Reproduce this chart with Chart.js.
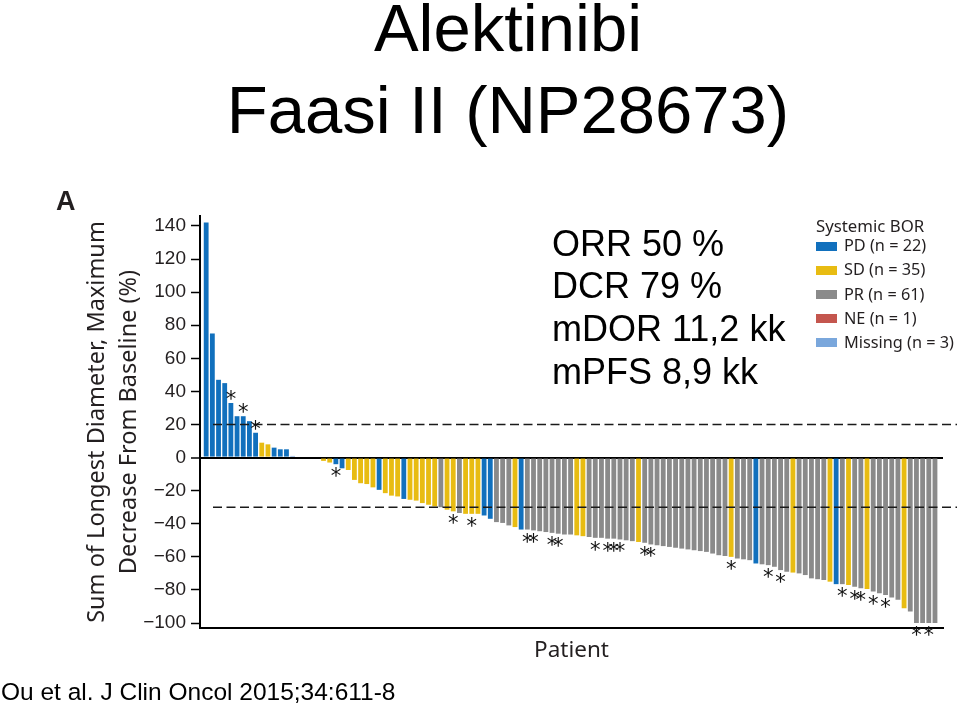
<!DOCTYPE html>
<html>
<head>
<meta charset="utf-8">
<script src="https://cdn.jsdelivr.net/npm/chart.js@4.4.1/dist/chart.umd.min.js"></script>
<style>
  html, body { margin: 0; padding: 0; background: #fff; }
  #wrap { position: relative; width: 960px; height: 708px; overflow: hidden; background: #fff; }
  #c { position: absolute; left: 0; top: 0; }
  .t { position: absolute; white-space: nowrap; line-height: 1; color: #000; }
  .arial { font-family: "Liberation Sans", Arial, Helvetica, sans-serif; }
  .noto { font-family: "Noto Sans", "Open Sans", sans-serif; color: #231f20; }
  .sw { position: absolute; width: 21px; height: 9px; }
</style>
</head>
<body>
<div id="wrap">
  <canvas id="c" width="960" height="708"></canvas>
  <div class="t arial" style="left:0;width:1016px;text-align:center;top:-5.7px;font-size:67px;">Alektinibi</div>
  <div class="t arial" style="left:0;width:1016px;text-align:center;top:76.3px;font-size:67px;">Faasi II (NP28673)</div>
  <div class="t arial" style="left:56px;top:188px;font-size:27px;font-weight:bold;color:#231f20;">A</div>
  <div class="t arial" style="left:552px;top:225.5px;font-size:36px;">ORR 50 %</div>
  <div class="t arial" style="left:552px;top:268.2px;font-size:36px;">DCR 79 %</div>
  <div class="t arial" style="left:552px;top:310.8px;font-size:36px;">mDOR 11,2 kk</div>
  <div class="t arial" style="left:552px;top:353.5px;font-size:36px;">mPFS 8,9 kk</div>
  <div class="t arial" style="left:1px;top:680.3px;font-size:24.5px;">Ou et al. J Clin Oncol 2015;34:611-8</div>
  <div id="legend"></div>
</div>
<script>
// ---- data ----
const changeValues = [
  142, 75, 47, 45, 33, 25, 25, 22, 15, 9,
  8, 6, 5, 5, 1, 0, 0, 0, 0, -2,
  -3, -4, -6.5, -7.5, -13.5, -15.5, -16, -18, -19.5, -21.5,
  -23, -23.5, -25, -25.5, -26, -27.5, -28.5, -29.5, -30, -31.5,
  -32.5, -33.5, -34, -34, -34, -35, -37, -39, -39.5, -41,
  -42, -43.5, -43.5, -44, -44.5, -45, -45.5, -46, -46.5, -46.5,
  -47, -47.5, -48, -48.5, -48.5, -49, -49, -49.5, -50, -50.5,
  -51, -51.5, -52.5, -53, -53.5, -54, -54.5, -55, -55.5, -56,
  -56.5, -57, -58, -59, -59.5, -60, -61, -61.5, -62, -64,
  -64.5, -65, -66, -68, -69, -69.5, -70, -71, -73, -73.5,
  -74, -75, -76.5, -76.5, -77, -78, -79, -79.5, -81, -82,
  -83, -84.5, -86, -91, -93, -100, -100, -100, -100
];
const responseCodes = [
  'PD','PD','PD','PD','PD','PD','PD','PD','PD','SD',
  'SD','PD','PD','PD','Missing','SD','SD','SD','NE','SD',
  'SD','PD','PD','SD','SD','SD','SD','SD','PD','SD',
  'SD','SD','PD','SD','SD','SD','SD','SD','PR','SD',
  'SD','PR','SD','SD','SD','PD','PD','PR','PR','PR',
  'SD','PD','PR','PR','PR','PR','PR','PR','PR','PR',
  'SD','SD','PR','PR','PR','PR','PR','PR','PR','PR',
  'SD','PR','PR','PR','PR','PR','PR','PR','PR','PR',
  'PR','PR','PR','PR','PR','SD','PR','PR','PR','PD',
  'PR','PR','PR','PR','PR','SD','PR','PR','PR','PR',
  'PR','SD','PD','PR','SD','PR','PR','SD','PR','PR',
  'PR','PR','PR','SD','PR','PR','PR','PR','PR'
];
const asteriskBars = [5, 7, 9, 22, 41, 44, 53, 54, 57, 58, 64, 66, 67, 68, 72, 73, 86, 92, 94, 104, 106, 107, 109, 111, 116, 118];
const responseLabels = ['PD', 'SD', 'PR', 'NE', 'Missing'];
const responseCounts = [22, 35, 61, 1, 3];
const responseColors = ['#1170bd', '#e8bc12', '#8a8a8a', '#c4564e', '#7aa7dc'];
const legendTitle = 'Systemic BOR';
const thresholdLines = [20, -30];
const yAxisTitle = ['Sum of Longest Diameter, Maximum', 'Decrease From Baseline (%)'];
const xAxisTitle = 'Patient';

// ---- legend (HTML) ----
(function buildLegend() {
  const lg = document.getElementById('legend');
  const title = document.createElement('div');
  title.className = 't noto';
  title.style.cssText = 'left:816px;top:217.5px;font-size:16.8px;';
  title.textContent = legendTitle;
  lg.appendChild(title);
  responseLabels.forEach((lab, i) => {
    const cy = 246 + i * 24.1;
    const sw = document.createElement('div');
    sw.className = 'sw';
    sw.style.left = '816px';
    sw.style.top = (cy - 4.5) + 'px';
    sw.style.background = responseColors[i];
    lg.appendChild(sw);
    const tx = document.createElement('div');
    tx.className = 't noto';
    tx.style.cssText = 'left:844px;font-size:16.3px;top:' + (cy - 8.7) + 'px;';
    tx.textContent = lab + ' (n = ' + responseCounts[i] + ')';
    lg.appendChild(tx);
  });
})();

// ---- reference lines and asterisks ----
const annotPlugin = {
  id: 'annot',
  afterDatasetsDraw(chart) {
    const { ctx, chartArea, scales } = chart;
    const y = scales.y;
    ctx.save();
    ctx.strokeStyle = '#1a1a1a';
    ctx.lineWidth = 1.6;
    ctx.setLineDash([9, 4.5]);
    thresholdLines.forEach(v => {
      const py = y.getPixelForValue(v);
      ctx.beginPath();
      ctx.moveTo(chartArea.left + 13, py);
      ctx.lineTo(chartArea.right + 14, py);
      ctx.stroke();
    });
    ctx.setLineDash([]);
    const meta = chart.getDatasetMeta(0);
    ctx.fillStyle = '#111';
    ctx.font = '21px "DejaVu Sans"';
    ctx.textAlign = 'center';
    ctx.textBaseline = 'alphabetic';
    const m = ctx.measureText('*');
    const mid = (m.actualBoundingBoxAscent - m.actualBoundingBoxDescent) / 2;
    asteriskBars.forEach(k => {
      const el = meta.data[k - 1];
      if (!el) return;
      const v = changeValues[k - 1];
      const cy = v >= 0 ? el.y - 8 : el.y + 8;
      ctx.fillText('*', el.x, cy + mid);
    });
    ctx.restore();
  }
};

new Chart(document.getElementById('c').getContext('2d'), {
  type: 'bar',
  data: {
    datasets: [{
      data: changeValues.map((v, i) => ({ x: i + 1, y: v })),
      backgroundColor: responseCodes.map(c => responseColors[responseLabels.indexOf(c)]),
      borderWidth: 0,
      barPercentage: 0.78,
      categoryPercentage: 1
    }]
  },
  options: {
    responsive: false,
    animation: false,
    devicePixelRatio: 1,
    layout: { padding: { left: 0, right: 17, top: 216, bottom: 0 } },
    plugins: { legend: { display: false }, tooltip: { enabled: false } },
    scales: {
      x: {
        type: 'linear',
        min: 0,
        max: 120.3,
        offset: false,
        ticks: { display: false, includeBounds: false },
        grid: { display: false },
        border: { display: true, color: '#000', width: 2 },
        title: {
          display: true, text: xAxisTitle, color: '#231f20',
          font: { family: 'Noto Sans', size: 22.5 },
          padding: { top: 0, bottom: 44 }
        },
        afterFit: s => { s.height = 80; }
      },
      y: {
        min: -103,
        max: 146,
        ticks: {
          stepSize: 20, includeBounds: false, padding: 5, color: '#231f20',
          font: { family: 'Liberation Sans', size: 19 },
          callback: v => (v < 0 ? '\u2212' + Math.abs(v) : String(v))
        },
        grid: {
          drawOnChartArea: true, drawTicks: true, tickLength: 9,
          color: c => (c.tick && c.tick.value === 0 ? '#000' : 'rgba(0,0,0,0)'),
          lineWidth: c => (c.tick && c.tick.value === 0 ? 2 : 1),
          tickColor: '#000', tickWidth: 1.5
        },
        border: { display: true, color: '#000', width: 2 },
        title: {
          display: true, text: yAxisTitle, color: '#231f20',
          font: { family: 'Noto Sans', size: 23.5, lineHeight: 32 / 23.5 },
          padding: { top: 81, bottom: 0 }
        },
        afterFit: s => { s.width = 200; }
      }
    }
  },
  plugins: [annotPlugin]
});
</script>
</body>
</html>
